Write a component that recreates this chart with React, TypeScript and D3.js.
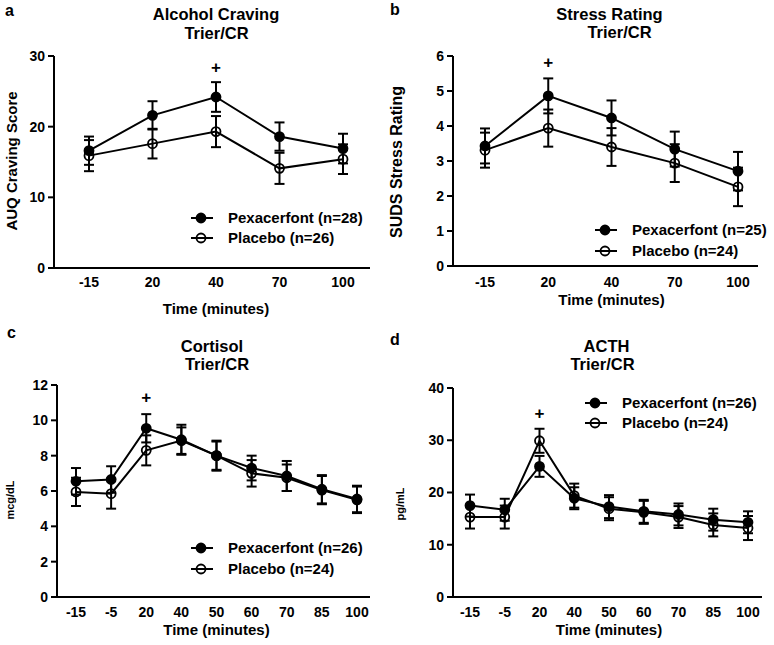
import React from "react";
import * as d3 from "d3";

// time points (minutes)
const timesShort = ["-15", "20", "40", "70", "100"];
const timesLong = ["-15", "-5", "20", "40", "50", "60", "70", "85", "100"];

// a: alcohol craving
const cravingPex = [16.6, 21.6, 24.2, 18.6, 16.9];
const cravingPexSem = [2.0, 2.0, 2.1, 2.0, 2.1];
const cravingPla = [15.9, 17.6, 19.3, 14.1, 15.4];
const cravingPlaSem = [2.2, 2.1, 2.2, 2.2, 2.1];
const cravingTicks = [0, 10, 20, 30];

// b: stress rating
const stressPex = [3.43, 4.86, 4.23, 3.34, 2.71];
const stressPexSem = [0.5, 0.5, 0.5, 0.5, 0.55];
const stressPla = [3.31, 3.94, 3.4, 2.94, 2.26];
const stressPlaSem = [0.5, 0.53, 0.54, 0.54, 0.55];
const stressTicks = [0, 1, 2, 3, 4, 5, 6];

// c: cortisol
const cortisolPex = [6.55, 6.65, 9.55, 8.9, 8.0, 7.3, 6.85, 6.1, 5.55];
const cortisolPexSem = [0.75, 0.75, 0.8, 0.85, 0.85, 0.7, 0.85, 0.8, 0.75];
const cortisolPla = [5.95, 5.85, 8.3, 8.85, 8.0, 7.0, 6.75, 6.05, 5.5];
const cortisolPlaSem = [0.8, 0.85, 0.85, 0.75, 0.8, 0.75, 0.75, 0.8, 0.75];
const cortisolTicks = [0, 2, 4, 6, 8, 10, 12];

// d: ACTH
const acthPex = [17.5, 16.7, 25.0, 18.9, 17.3, 16.4, 15.8, 14.8, 14.3];
const acthPexSem = [2.1, 2.1, 2.0, 2.1, 2.2, 2.2, 2.1, 2.1, 2.1];
const acthPla = [15.3, 15.3, 29.9, 19.4, 16.9, 16.2, 15.3, 13.8, 13.2];
const acthPlaSem = [2.2, 2.2, 2.3, 2.3, 2.2, 2.2, 2.1, 2.2, 2.3];
const acthTicks = [0, 10, 20, 30, 40];

const font = "'Liberation Sans', Arial, sans-serif";

const panels = [
    {
        letter: "a", title: ["Alcohol Craving", "Trier/CR"], yLabel: "AUQ Craving Score",
        cats: timesShort, ticks: cravingTicks,
        pex: cravingPex, pexSem: cravingPexSem, pla: cravingPla, plaSem: cravingPlaSem,
        legend: ["Pexacerfont (n=28)", "Placebo (n=26)"], plus: { cat: "40", value: 28.4 },
        axisX: 54, axisEnd: 370, yTop: 56, yBottom: 268, xRange: [89, 343],
        letterPos: [5, 16], titleX: [216, 216.5], titleY: [20, 38.5],
        tickY: 287, xTitleY: 314, yLabelPos: [17, 161], yLabelSize: 15,
        legendX: 201, legendY: [218, 238],
    },
    {
        letter: "b", title: ["Stress Rating", "Trier/CR"], yLabel: "SUDS Stress Rating",
        cats: timesShort, ticks: stressTicks,
        pex: stressPex, pexSem: stressPexSem, pla: stressPla, plaSem: stressPlaSem,
        legend: ["Pexacerfont (n=25)", "Placebo (n=24)"], plus: { cat: "20", value: 5.83 },
        axisX: 453, axisEnd: 758, yTop: 56, yBottom: 266, xRange: [485, 738],
        letterPos: [390, 15], titleX: [609.5, 619.5], titleY: [20, 38],
        tickY: 287, xTitleY: 305, yLabelPos: [402, 162], yLabelSize: 16,
        legendX: 605, legendY: [230, 251],
    },
    {
        letter: "c", title: ["Cortisol", "Trier/CR"], yLabel: "mcg/dL",
        cats: timesLong, ticks: cortisolTicks,
        pex: cortisolPex, pexSem: cortisolPexSem, pla: cortisolPla, plaSem: cortisolPlaSem,
        legend: ["Pexacerfont (n=26)", "Placebo (n=24)"], plus: { cat: "20", value: 11.3 },
        axisX: 57, axisEnd: 370, yTop: 385, yBottom: 597, xRange: [76, 357],
        letterPos: [7, 338], titleX: [212, 217], titleY: [352, 370],
        tickY: 617, xTitleY: 635, yLabelPos: [14, 500], yLabelSize: 11,
        legendX: 201, legendY: [548, 569],
    },
    {
        letter: "d", title: ["ACTH", "Trier/CR"], yLabel: "pg/mL",
        cats: timesLong, ticks: acthTicks,
        pex: acthPex, pexSem: acthPexSem, pla: acthPla, plaSem: acthPlaSem,
        legend: ["Pexacerfont (n=26)", "Placebo (n=24)"], plus: { cat: "20", value: 35.2 },
        axisX: 453, axisEnd: 762, yTop: 388, yBottom: 597, xRange: [470, 748],
        letterPos: [390, 345], titleX: [606.5, 602.5], titleY: [352, 370],
        tickY: 617, xTitleY: 635, yLabelPos: [404, 504], yLabelSize: 11,
        legendX: 595, legendY: [403, 423],
    },
];

export default function App() {
    const ref = React.useRef<SVGSVGElement>(null);

    React.useEffect(() => {
        const svg = d3.select(ref.current);
        svg.selectAll("*").remove();
        panels.forEach((p) => drawPanel(svg, p));
    }, []);

    function drawPanel(svg: any, p: any) {
        const g = svg.append("g").attr("font-family", font).attr("font-weight", "bold").attr("fill", "#000");
        const x = d3.scalePoint<string>().domain(p.cats).range(p.xRange);
        const yMax = p.ticks[p.ticks.length - 1];
        const y = d3.scaleLinear().domain([0, yMax]).range([p.yBottom, p.yTop]);

        // letter + titles
        g.append("text").attr("x", p.letterPos[0]).attr("y", p.letterPos[1]).attr("font-size", 16).text(p.letter);
        p.title.forEach((t: string, i: number) => {
            g.append("text").attr("x", p.titleX[i]).attr("y", p.titleY[i])
                .attr("text-anchor", "middle").attr("font-size", 16.5).text(t);
        });

        // axes
        g.append("line").attr("x1", p.axisX).attr("x2", p.axisX).attr("y1", y(yMax)).attr("y2", y(0))
            .attr("stroke", "#000").attr("stroke-width", 2);
        g.append("line").attr("x1", p.axisX - 1).attr("x2", p.axisEnd).attr("y1", y(0)).attr("y2", y(0))
            .attr("stroke", "#000").attr("stroke-width", 2);
        p.ticks.forEach((t: number) => {
            g.append("line").attr("x1", p.axisX - 6).attr("x2", p.axisX).attr("y1", y(t)).attr("y2", y(t))
                .attr("stroke", "#000").attr("stroke-width", 2);
            g.append("text").attr("x", p.axisX - 9).attr("y", y(t)).attr("dy", "0.35em")
                .attr("text-anchor", "end").attr("font-size", 14).text(t);
        });
        p.cats.forEach((c: string) => {
            g.append("text").attr("x", x(c)).attr("y", p.tickY).attr("text-anchor", "middle")
                .attr("font-size", 14).text(c);
        });
        g.append("text").attr("x", (p.xRange[0] + p.xRange[1]) / 2).attr("y", p.xTitleY)
            .attr("text-anchor", "middle").attr("font-size", 15).text("Time (minutes)");
        g.append("text").attr("transform", `translate(${p.yLabelPos[0]},${p.yLabelPos[1]}) rotate(-90)`)
            .attr("text-anchor", "middle").attr("font-size", p.yLabelSize).text(p.yLabel);

        // series
        const series = [
            { vals: p.pla, sem: p.plaSem, filled: false },
            { vals: p.pex, sem: p.pexSem, filled: true },
        ];
        const line = d3.line<number>().x((d, i) => x(p.cats[i])!).y((d) => y(d));
        series.forEach((s) => {
            s.vals.forEach((v: number, i: number) => {
                const cx = x(p.cats[i])!;
                g.append("line").attr("x1", cx).attr("x2", cx).attr("y1", y(v - s.sem[i])).attr("y2", y(v + s.sem[i]))
                    .attr("stroke", "#000").attr("stroke-width", 2);
                [v - s.sem[i], v + s.sem[i]].forEach((e) => {
                    g.append("line").attr("x1", cx - 5).attr("x2", cx + 5).attr("y1", y(e)).attr("y2", y(e))
                        .attr("stroke", "#000").attr("stroke-width", 2);
                });
            });
            g.append("path").attr("d", line(s.vals)).attr("fill", "none").attr("stroke", "#000").attr("stroke-width", 2);
        });
        series.forEach((s) => {
            s.vals.forEach((v: number, i: number) => {
                g.append("circle").attr("cx", x(p.cats[i])).attr("cy", y(v)).attr("r", 4.5)
                    .attr("fill", s.filled ? "#000" : "none").attr("stroke", "#000").attr("stroke-width", 1.8);
            });
        });

        // significance mark
        g.append("text").attr("x", x(p.plus.cat)).attr("y", y(p.plus.value)).attr("dy", "0.35em")
            .attr("text-anchor", "middle").attr("font-size", 17).text("+");

        // legend
        [true, false].forEach((filled, i) => {
            const ly = p.legendY[i];
            g.append("line").attr("x1", p.legendX - 10).attr("x2", p.legendX + 12).attr("y1", ly).attr("y2", ly)
                .attr("stroke", "#000").attr("stroke-width", 2);
            g.append("circle").attr("cx", p.legendX).attr("cy", ly).attr("r", 4.5)
                .attr("fill", filled ? "#000" : "none").attr("stroke", "#000").attr("stroke-width", 1.8);
            g.append("text").attr("x", p.legendX + 27).attr("y", ly).attr("dy", "0.35em")
                .attr("font-size", 15).text(p.legend[i]);
        });
    }

    return (
        <svg ref={ref} width={774} height={645}
            style={{ position: "absolute", left: 0, top: 0, background: "#fff" }} />
    );
}
